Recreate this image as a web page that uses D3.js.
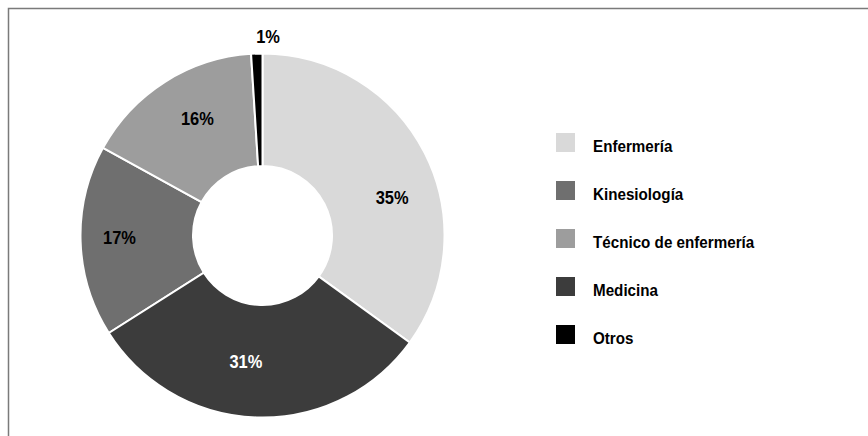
<!DOCTYPE html>
<html>
<head>
<meta charset="utf-8">
<script src="https://cdn.jsdelivr.net/npm/d3@7"></script>
<style>
  body { margin: 0; background: #fff; }
  svg { display: block; }
  text { font-family: "Liberation Sans", Arial, sans-serif; font-weight: bold; }
</style>
</head>
<body>
<div id="chart"></div>
<script>
// legend order
var categories = ["Enfermería", "Kinesiología", "Técnico de enfermería", "Medicina", "Otros"];
var values = [35, 17, 16, 31, 1];
// order the slices go round the ring, clockwise from the top
var sliceOrder = ["Enfermería", "Medicina", "Kinesiología", "Técnico de enfermería", "Otros"];
var colors = ["#d9d9d9", "#6f6f6f", "#9d9d9d", "#3c3c3c", "#000000"];
var labelColors = ["#000", "#000", "#000", "#fff", "#000"];
// label placement tweaks: extra angle (deg) past the slice middle, and radius
var labelTurn = [10.8, 0.8, 3.3, 5.7, 3.4];
var labelDist = [135, 143, 134, 127, 199];

var width = 868, height = 436;
var cx = 262.5, cy = 235.5;
var outerR = 182, innerR = 69.5;
var squeeze = 0.95;

var dataset = categories.map(function (c, i) {
    return { label: c, count: values[i], color: colors[i], ink: labelColors[i],
             turn: labelTurn[i], dist: labelDist[i] };
});

var svg = d3.select("#chart").append("svg")
    .attr("width", width)
    .attr("height", height);

// frame (only top and left show inside the picture)
svg.append("rect")
    .attr("x", 8.5).attr("y", 8.5)
    .attr("width", width + 10).attr("height", height + 10)
    .attr("fill", "none")
    .attr("stroke", "#7a7a7a")
    .attr("stroke-width", 1.5);

var g = svg.append("g")
    .attr("transform", "translate(" + cx + "," + cy + ")");

var pie = d3.pie()
    .value(function (d) { return d.count; })
    .sort(function (a, b) { return sliceOrder.indexOf(a.label) - sliceOrder.indexOf(b.label); });

var arc = d3.arc().innerRadius(innerR).outerRadius(outerR);

var slices = pie(dataset);

g.selectAll("path")
    .data(slices)
    .enter()
    .append("path")
    .attr("d", arc)
    .attr("fill", function (d) { return d.data.color; })
    .attr("stroke", "#fff")
    .attr("stroke-width", 2);

g.selectAll(".pct")
    .data(slices)
    .enter()
    .append("text")
    .attr("class", "pct")
    .attr("text-anchor", "middle")
    .attr("transform", function (d) {
        var a = (d.startAngle + d.endAngle) / 2 + d.data.turn * Math.PI / 180;
        var x = Math.sin(a) * d.data.dist, y = -Math.cos(a) * d.data.dist;
        return "translate(" + x + "," + y + ") scale(" + 0.94 + ",1)";
    })
    .attr("dy", "0.36em")
    .attr("font-size", "17.5px")
    .attr("fill", function (d) { return d.data.ink; })
    .text(function (d) { return d.data.count + "%"; });

var legendRectSize = 19;
var legendSpacing = 48;
var legend = svg.selectAll(".legend")
    .data(dataset)
    .enter()
    .append("g")
    .attr("class", "legend")
    .attr("transform", function (d, i) {
        return "translate(556," + (133 + i * legendSpacing) + ")";
    });

legend.append("rect")
    .attr("width", legendRectSize)
    .attr("height", legendRectSize)
    .attr("fill", function (d) { return d.color; });

legend.append("text")
    .attr("transform", "translate(37," + (legendRectSize - 0.5) + ") scale(" + squeeze + ",1)")
    .attr("font-size", "16px")
    .attr("fill", "#000")
    .text(function (d) { return d.label; });
</script>
</body>
</html>
